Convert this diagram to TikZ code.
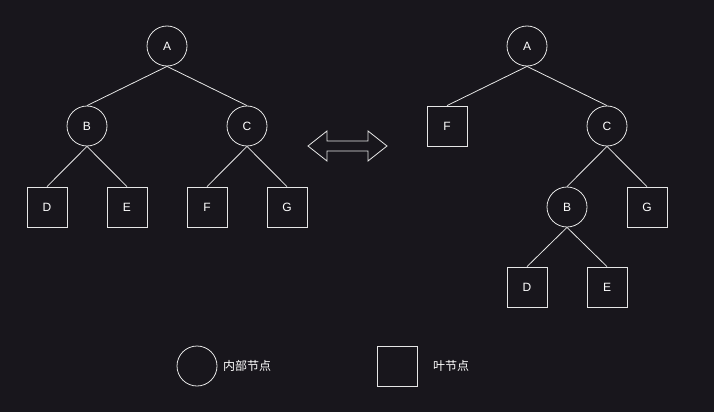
\documentclass[tikz,border=0pt]{standalone}
\usepackage{fontspec}
\setmainfont{Liberation Sans}
\newfontfamily\cjk{Noto Sans CJK SC}
\begin{document}
\begin{tikzpicture}[x=1pt,y=-1pt,
  every node/.style={text=white,font=\fontsize{12}{14}\selectfont},
  inner/.style={circle,draw=linec,line width=0.8pt,minimum size=40pt,inner sep=0pt},
  leaf/.style={rectangle,draw=linec,line width=0.8pt,minimum size=40pt,inner sep=0pt},
  edge/.style={draw=linec,line width=0.8pt},
  lbl/.style={anchor=west,inner sep=0pt,font=\cjk\fontsize{12}{14}\selectfont}]
\definecolor{bg}{HTML}{18161C}
\definecolor{linec}{HTML}{E6E6E6}
\useasboundingbox[fill=bg] (0,0) rectangle (714,412);
% left tree
\node[inner] (lA) at (167,46) {A};
\node[inner] (lB) at (87,126) {B};
\node[inner] (lC) at (247,126) {C};
\node[leaf] (lD) at (47,207) {D};
\node[leaf] (lE) at (127,207) {E};
\node[leaf] (lF) at (207,207) {F};
\node[leaf] (lG) at (287,207) {G};
\draw[edge] (lA.south) -- (lB.north);
\draw[edge] (lA.south) -- (lC.north);
\draw[edge] (lB.south) -- (lD.north);
\draw[edge] (lB.south) -- (lE.north);
\draw[edge] (lC.south) -- (lF.north);
\draw[edge] (lC.south) -- (lG.north);
% right tree
\node[inner] (rA) at (527,46) {A};
\node[leaf] (rF) at (447,126) {F};
\node[inner] (rC) at (607,126) {C};
\node[inner] (rB) at (567,207) {B};
\node[leaf] (rG) at (647,207) {G};
\node[leaf] (rD) at (527,287) {D};
\node[leaf] (rE) at (607,287) {E};
\draw[edge] (rA.south) -- (rF.north);
\draw[edge] (rA.south) -- (rC.north);
\draw[edge] (rC.south) -- (rB.north);
\draw[edge] (rC.south) -- (rG.north);
\draw[edge] (rB.south) -- (rD.north);
\draw[edge] (rB.south) -- (rE.north);
% double arrow
\draw[edge,line join=miter] (308,146) -- (327,131) -- (327,141) -- (368,141) -- (368,131) -- (387,146)
  -- (368,161) -- (368,151) -- (327,151) -- (327,161) -- cycle;
% legend
\node[inner] (legC) at (197,366) {};
\node[lbl] (legCt) at (223,366) {内部节点};
\node[leaf] (legS) at (397,366) {};
\node[lbl] (legSt) at (433,366) {叶节点};
\end{tikzpicture}
\end{document}
